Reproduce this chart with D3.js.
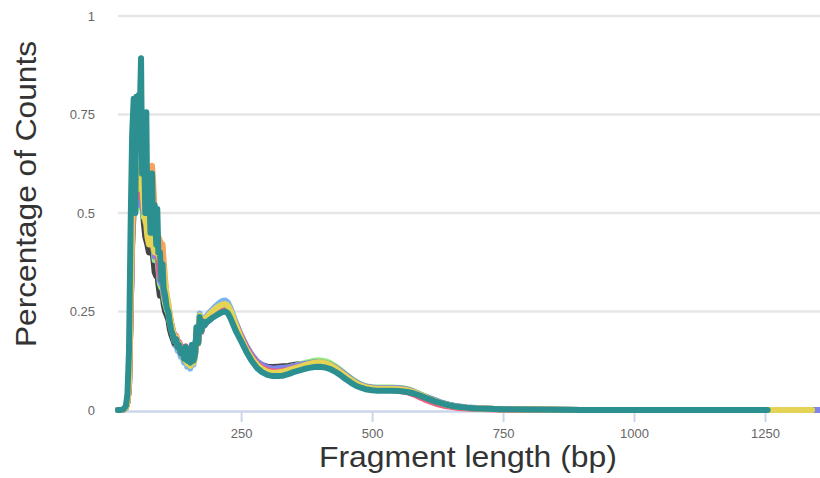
<!DOCTYPE html>
<html>
<head>
<meta charset="utf-8">
<script src="https://cdn.jsdelivr.net/npm/d3@7"></script>
<style>
  html, body { margin: 0; padding: 0; background: #ffffff; }
  svg { display: block; font-family: "Liberation Sans", Arial, sans-serif; }
</style>
</head>
<body>
<svg id="chart" width="820" height="478"></svg>
<script>
// Fragment length grid (bp)
const lengths = [15,20,25,30,33,
  36,39,42,45,48,50,52,55,57,59,61,64,67,69,71,74,77,80,82,85,88,90,92,95,98,100,102,105,108,111,114,117,120,
  123,126,129,132,135,138,141,144,147,150,153,156,159,162,165,168,171,174,177,180,
  185,190,195,200,205,210,215,220,225,230,240,250,260,270,280,290,300,310,320,330,340,350,360,370,380,390,
  400,410,420,430,440,450,460,470,480,490,500,510,520,530,540,550,560,570,580,590,
  600,610,620,630,640,650,660,680,700,720,750,800,850,900,1000,1100,1200,1255,1340,1355];

const sampleBlue = [0,0,0.001,0.006,0.02,
 0.06,0.26,0.46,0.55,0.59,0.60,0.55,0.56,0.60,0.61,0.57,0.52,0.55,0.56,0.52,0.46,0.46,0.48,0.44,0.39,0.39,0.41,0.37,0.32,0.31,0.32,0.29,0.26,0.25,0.24,0.21,0.195,0.18,
 0.165,0.17,0.15,0.155,0.135,0.14,0.12,0.15,0.11,0.14,0.105,0.155,0.115,0.135,0.21,0.175,0.245,0.21,0.235,0.228,
 0.24,0.248,0.255,0.262,0.268,0.273,0.277,0.278,0.272,0.258,0.222,0.185,0.155,0.131,0.113,0.101,0.094,0.090,0.091,0.092,0.096,0.101,0.106,0.110,0.114,0.117,
 0.118,0.117,0.113,0.106,0.096,0.085,0.075,0.066,0.060,0.056,0.054,0.053,0.053,0.053,0.053,0.052,0.051,0.049,0.045,0.040,
 0.035,0.030,0.025,0.020,0.016,0.012,0.010,0.007,0.005,0.003,0.002,0.001,0.0005,0.0003,0.0001,0,0,null,null,null];

const sampleBlack = [0,0,0.001,0.006,0.02,
 0.06,0.25,0.44,0.53,0.57,0.58,0.53,0.54,0.59,0.60,0.55,0.48,0.44,0.43,0.42,0.40,0.40,0.41,0.39,0.35,0.34,0.35,0.32,0.29,0.29,0.30,0.27,0.25,0.24,0.23,0.205,0.19,0.18,
 0.17,0.175,0.16,0.16,0.145,0.15,0.135,0.155,0.13,0.15,0.125,0.16,0.13,0.14,0.2,0.17,0.225,0.2,0.222,0.215,
 0.226,0.231,0.236,0.24,0.244,0.247,0.25,0.251,0.247,0.237,0.21,0.182,0.157,0.137,0.122,0.114,0.110,0.109,0.110,0.111,0.112,0.114,0.116,0.117,0.118,0.118,
 0.117,0.114,0.109,0.102,0.093,0.083,0.073,0.065,0.059,0.055,0.053,0.052,0.052,0.052,0.052,0.051,0.050,0.048,0.044,0.039,
 0.034,0.029,0.024,0.019,0.015,0.012,0.009,0.006,0.004,0.003,0.002,0.001,0.0005,0.0003,0.0001,0,0,null,null,null];

const sampleGreen = [0,0,0.001,0.006,0.02,
 0.06,0.24,0.42,0.51,0.55,0.56,0.51,0.52,0.56,0.57,0.54,0.49,0.50,0.51,0.48,0.44,0.44,0.45,0.42,0.38,0.38,0.39,0.36,0.32,0.31,0.32,0.29,0.27,0.255,0.245,0.22,0.205,0.19,
 0.175,0.178,0.162,0.165,0.148,0.155,0.135,0.158,0.128,0.152,0.124,0.162,0.128,0.142,0.205,0.172,0.232,0.205,0.228,0.22,
 0.23,0.236,0.241,0.246,0.25,0.254,0.257,0.258,0.254,0.243,0.213,0.182,0.155,0.134,0.119,0.110,0.105,0.103,0.104,0.106,0.108,0.111,0.115,0.119,0.122,0.125,
 0.126,0.124,0.119,0.111,0.101,0.090,0.080,0.071,0.064,0.060,0.058,0.057,0.057,0.057,0.057,0.056,0.055,0.052,0.047,0.041,
 0.035,0.029,0.024,0.019,0.015,0.012,0.009,0.006,0.004,0.003,0.002,0.001,0.0005,0.0003,0.0001,0,0,null,null,null];

const sampleOrange = [0,0,0.001,0.006,0.02,
 0.06,0.23,0.42,0.52,0.56,0.57,0.54,0.56,0.59,0.60,0.59,0.58,0.61,0.62,0.60,0.58,0.60,0.62,0.58,0.50,0.46,0.45,0.44,0.43,0.42,0.42,0.38,0.33,0.29,0.27,0.24,0.22,0.20,
 0.185,0.185,0.168,0.17,0.15,0.158,0.135,0.16,0.128,0.15,0.122,0.16,0.128,0.14,0.2,0.168,0.228,0.2,0.225,0.218,
 0.228,0.233,0.238,0.243,0.247,0.25,0.253,0.254,0.25,0.24,0.212,0.182,0.154,0.132,0.116,0.106,0.100,0.098,0.099,0.100,0.103,0.107,0.111,0.114,0.117,0.119,
 0.119,0.117,0.112,0.104,0.095,0.085,0.075,0.067,0.061,0.057,0.055,0.054,0.054,0.054,0.054,0.053,0.052,0.049,0.045,0.039,
 0.033,0.028,0.023,0.018,0.014,0.011,0.009,0.006,0.004,0.003,0.002,0.001,0.0005,0.0003,0.0001,0,0,0,null,null];

const samplePurple = [0,0,0.001,0.006,0.02,
 0.06,0.24,0.42,0.51,0.55,0.56,0.52,0.53,0.56,0.57,0.52,0.50,0.52,0.53,0.49,0.45,0.45,0.47,0.43,0.39,0.39,0.40,0.37,0.33,0.32,0.33,0.30,0.28,0.265,0.255,0.23,0.215,0.20,
 0.185,0.185,0.17,0.17,0.155,0.16,0.14,0.16,0.135,0.155,0.13,0.165,0.135,0.145,0.2,0.175,0.222,0.2,0.22,0.215,
 0.223,0.228,0.234,0.24,0.245,0.249,0.252,0.254,0.252,0.245,0.22,0.19,0.163,0.141,0.124,0.114,0.108,0.105,0.106,0.107,0.108,0.111,0.114,0.117,0.119,0.121,
 0.121,0.119,0.115,0.108,0.099,0.089,0.079,0.070,0.063,0.059,0.057,0.056,0.056,0.056,0.056,0.055,0.054,0.051,0.046,0.040,
 0.034,0.029,0.024,0.019,0.015,0.012,0.009,0.006,0.004,0.003,0.002,0.001,0.0005,0.0003,0.0001,0,0,0,0,0];

const samplePink = [0,0,0.001,0.006,0.02,
 0.06,0.25,0.44,0.53,0.57,0.58,0.54,0.55,0.58,0.58,0.55,0.51,0.53,0.54,0.50,0.46,0.46,0.48,0.44,0.40,0.40,0.41,0.38,0.34,0.33,0.34,0.31,0.285,0.27,0.26,0.235,0.215,0.20,
 0.185,0.188,0.17,0.172,0.152,0.16,0.138,0.162,0.132,0.155,0.128,0.162,0.13,0.142,0.2,0.17,0.225,0.198,0.222,0.216,
 0.225,0.23,0.236,0.241,0.246,0.249,0.252,0.253,0.25,0.242,0.216,0.186,0.158,0.135,0.118,0.107,0.101,0.098,0.098,0.099,0.102,0.106,0.109,0.112,0.115,0.117,
 0.117,0.115,0.11,0.102,0.092,0.082,0.072,0.064,0.058,0.054,0.052,0.051,0.051,0.051,0.050,0.049,0.047,0.044,0.039,0.033,
 0.027,0.022,0.017,0.013,0.010,0.008,0.006,0.004,0.003,0.002,0.001,0.0005,0.0003,0.0002,0.0001,0,0,0,null,null];

const sampleYellow = [0,0,0.001,0.006,0.02,
 0.07,0.27,0.47,0.56,0.60,0.61,0.56,0.58,0.61,0.62,0.58,0.52,0.48,0.47,0.44,0.42,0.43,0.44,0.42,0.40,0.40,0.41,0.40,0.38,0.37,0.37,0.35,0.32,0.29,0.27,0.24,0.215,0.20,
 0.182,0.185,0.165,0.168,0.148,0.155,0.128,0.152,0.118,0.145,0.112,0.158,0.12,0.135,0.205,0.17,0.24,0.205,0.232,0.225,
 0.236,0.243,0.25,0.256,0.261,0.265,0.268,0.269,0.264,0.252,0.216,0.182,0.154,0.132,0.115,0.104,0.097,0.094,0.095,0.097,0.101,0.105,0.109,0.113,0.117,0.12,
 0.121,0.119,0.114,0.106,0.096,0.086,0.076,0.067,0.061,0.057,0.055,0.054,0.054,0.054,0.054,0.053,0.052,0.049,0.045,0.039,
 0.034,0.028,0.023,0.018,0.014,0.011,0.009,0.006,0.004,0.003,0.002,0.001,0.0005,0.0003,0.0001,0,0,0,0,null];

const sampleTeal = [0,0,0.002,0.01,0.04,
 0.15,0.46,0.70,0.79,0.50,0.795,0.74,0.80,0.78,0.893,0.60,0.75,0.50,0.756,0.50,0.60,0.45,0.60,0.45,0.52,0.42,0.51,0.40,0.40,0.33,0.37,0.31,0.29,0.26,0.25,0.22,0.20,0.19,
 0.175,0.18,0.16,0.165,0.145,0.155,0.13,0.16,0.125,0.15,0.12,0.165,0.125,0.14,0.21,0.17,0.236,0.20,0.225,0.215,
 0.224,0.229,0.234,0.238,0.242,0.246,0.249,0.25,0.245,0.232,0.2,0.175,0.148,0.125,0.107,0.096,0.089,0.086,0.086,0.087,0.091,0.096,0.100,0.104,0.107,0.109,
 0.110,0.108,0.104,0.097,0.088,0.078,0.069,0.061,0.056,0.052,0.050,0.049,0.049,0.049,0.049,0.048,0.047,0.045,0.042,0.037,
 0.032,0.027,0.022,0.018,0.014,0.011,0.009,0.006,0.004,0.003,0.002,0.001,0.0005,0.0003,0.0001,0,0,0,null,null];

const seriesList = [sampleBlue, sampleBlack, sampleGreen, sampleOrange,
                    samplePurple, samplePink, sampleYellow, sampleTeal];
const seriesColors = ["#7cb5ec","#434348","#90ed7d","#f7a35c",
                      "#8085e9","#f15c80","#e4d354","#2b908f"];

const xTicks = [250, 500, 750, 1000, 1250];
const yTicks = [0, 0.25, 0.5, 0.75, 1];
const yTickLabels = ["0", "0.25", "0.5", "0.75", "1"];

const svg = d3.select("#chart");
const plotLeft = 118, plotRight = 820, plotTop = 16, plotBottom = 410;

const x = d3.scaleLinear().domain([15, 1355]).range([plotLeft, plotRight]);
const y = d3.scaleLinear().domain([0, 1]).range([plotBottom, plotTop]);

// grid lines
svg.append("g").selectAll("line")
  .data(yTicks.filter(t => t > 0))
  .join("line")
  .attr("x1", plotLeft).attr("x2", plotRight)
  .attr("y1", d => y(d)).attr("y2", d => y(d))
  .attr("stroke", "#e6e6e6").attr("stroke-width", 2.5);

// y tick labels
svg.append("g").selectAll("text")
  .data(yTicks)
  .join("text")
  .attr("x", 95)
  .attr("y", d => y(d))
  .attr("dy", "0.35em")
  .attr("text-anchor", "end")
  .attr("font-size", 13)
  .attr("fill", "#666666")
  .text((d, i) => yTickLabels[i]);

// x axis
const xAxis = d3.axisBottom(x).tickValues(xTicks).tickSize(11).tickSizeOuter(0).tickFormat(d3.format("d"));
const gx = svg.append("g").attr("transform", `translate(0,${plotBottom + 1})`).call(xAxis);
gx.select(".domain").attr("stroke", "#ccd6eb").attr("stroke-width", 2.5);
gx.selectAll(".tick line").attr("stroke", "#ccd6eb").attr("stroke-width", 2);
gx.selectAll(".tick text").attr("font-size", 13).attr("fill", "#666666")
  .attr("font-family", "\"Liberation Sans\", Arial, sans-serif")
  .attr("y", 27).attr("dy", 0);

// lines
const line = d3.line()
  .defined(d => d[1] !== null)
  .x(d => x(d[0]))
  .y(d => y(d[1]));

const lineG = svg.append("g");
seriesList.forEach((vals, i) => {
  const pts = lengths.map((l, j) => [l, vals[j] === undefined ? null : vals[j]]);
  lineG.append("path")
    .datum(pts)
    .attr("d", line)
    .attr("fill", "none")
    .attr("stroke", seriesColors[i])
    .attr("stroke-width", 6)
    .attr("stroke-linejoin", "round")
    .attr("stroke-linecap", "round");
});

// axis titles
svg.append("text")
  .attr("x", 468).attr("y", 467)
  .attr("text-anchor", "middle")
  .attr("font-size", 29)
  .attr("textLength", 298)
  .attr("lengthAdjust", "spacingAndGlyphs")
  .attr("fill", "#333333")
  .text("Fragment length (bp)");

svg.append("text")
  .attr("transform", "translate(36,194) rotate(-90)")
  .attr("text-anchor", "middle")
  .attr("font-size", 29)
  .attr("textLength", 306)
  .attr("lengthAdjust", "spacingAndGlyphs")
  .attr("fill", "#333333")
  .text("Percentage of Counts");
</script>
</body>
</html>
